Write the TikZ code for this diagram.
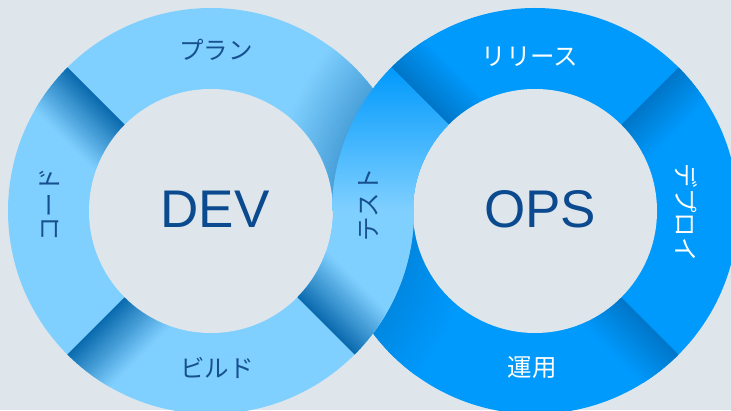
\documentclass[tikz,border=0pt]{standalone}
\usepackage{fontspec}
\setmainfont{Liberation Sans}
\newfontfamily\jpfont{Noto Sans CJK JP}
\usetikzlibrary{calc}

\definecolor{bgcol}{HTML}{DEE5EB}
\definecolor{devblue}{HTML}{80D0FF}
\definecolor{devdark}{HTML}{0A6AAE}
\definecolor{opsblue}{HTML}{0099FC}
\definecolor{opsdark}{HTML}{0076C8}
\definecolor{textblue}{HTML}{17508E}
\definecolor{titleblue}{HTML}{0B4A8E}

% fade next to a divider: centre, angle, side (1 or -1), dark, base, step
\newcommand{\divfade}[6]{%
  \begin{scope}[shift={(#1)}, rotate=#2]
    \foreach \i in {0,...,24}{
      \pgfmathsetmacro{\p}{100*(1-\i/25)}
      \draw[line width=#6+0.4, color=#4!\p!#5] (90,#3*\i*#6+#3*1.2) -- (215,#3*\i*#6+#3*1.2);
    }
  \end{scope}}
% shadow along a circle: centre, first radius, pct at edge, dark, base
\newcommand{\arcfade}[5]{%
  \foreach \i in {0,...,19}{
    \pgfmathsetmacro{\p}{#3*(1-\i/20)}
    \draw[line width=3.3, color=#4!\p!#5] (#1) circle[radius=#2+\i*3];
  }}

\begin{document}
\begin{tikzpicture}[x=1pt, y=1pt,
    devword/.style={font=\jpfont\fontsize{24.5}{24.5}\selectfont, text=textblue, inner sep=0},
    opsword/.style={font=\jpfont\fontsize{24.5}{24.5}\selectfont, text=white, inner sep=0},
    bigword/.style={font=\fontsize{53}{53}\selectfont, text=titleblue, inner sep=0}]
  %%%%% START %%%%%
  \useasboundingbox (0,0) rectangle (731,410);
  \clip (0,0) rectangle (731,410);
  \fill[bgcol] (0,0) rectangle (731,410);

  \coordinate (L) at (211,199);
  \coordinate (R) at (535,199);

  % ops ring
  \fill[opsblue] (R) circle[radius=203];
  \begin{scope}
    \clip (R) circle[radius=203];
    \divfade{R}{45}{-1}{opsdark}{opsblue}{1.7}
    \divfade{R}{315}{-1}{opsdark}{opsblue}{1.8}
    \divfade{R}{135}{-1}{opsdark}{opsblue}{1.7}
    \clip (0,0) rectangle (731,199);
    \arcfade{L}{204}{50}{opsdark}{opsblue}
  \end{scope}
  \fill[bgcol] (R) circle[radius=122];

  % dev ring
  \fill[devblue] (L) circle[radius=203];
  \begin{scope}
    \clip (L) circle[radius=203];
    \divfade{L}{135}{1}{devdark}{devblue}{2.1}
    \divfade{L}{225}{1}{devdark}{devblue}{2.1}
    \clip (0,199) rectangle (731,410);
    \arcfade{R}{204}{45}{devdark}{devblue}
  \end{scope}
  \fill[bgcol] (L) circle[radius=122];

  % test band, crossing from dev to ops
  \begin{scope}
    \clip ($(L)+(-45:122)$) arc[start angle=-45, end angle=0, radius=122]
      -- ($(R)+(180:203)$) arc[start angle=180, end angle=135, radius=203]
      -- ($(R)+(135:122)$) arc[start angle=135, end angle=180, radius=122]
      -- ($(L)+(0:203)$) arc[start angle=0, end angle=-45, radius=203] -- cycle;
    \shade[top color=opsblue, bottom color=devblue, middle color=devblue] (290,55) rectangle (455,343);
    \divfade{L}{-45}{1}{devdark}{devblue}{2.1}
  \end{scope}

  \node[devword] (plan) at (216,360) {プラン};
  \node[devword, rotate=90] (code) at (50,205) {コード};
  \node[devword] (build) at (217,42) {ビルド};
  \node[devword, rotate=90] (test) at (369,205) {テスト};

  \node[opsword] (release) at (530,353) {リリース};
  \node[opsword, rotate=-90] (deploy) at (686,197) {デプロイ};
  \node[opsword] (operate) at (532,42) {運用};

  \node[bigword] (dev) at (215,201) {DEV};
  \node[bigword] (ops) at (540,201) {OPS};
  %%%%% END %%%%%
\end{tikzpicture}
\end{document}
